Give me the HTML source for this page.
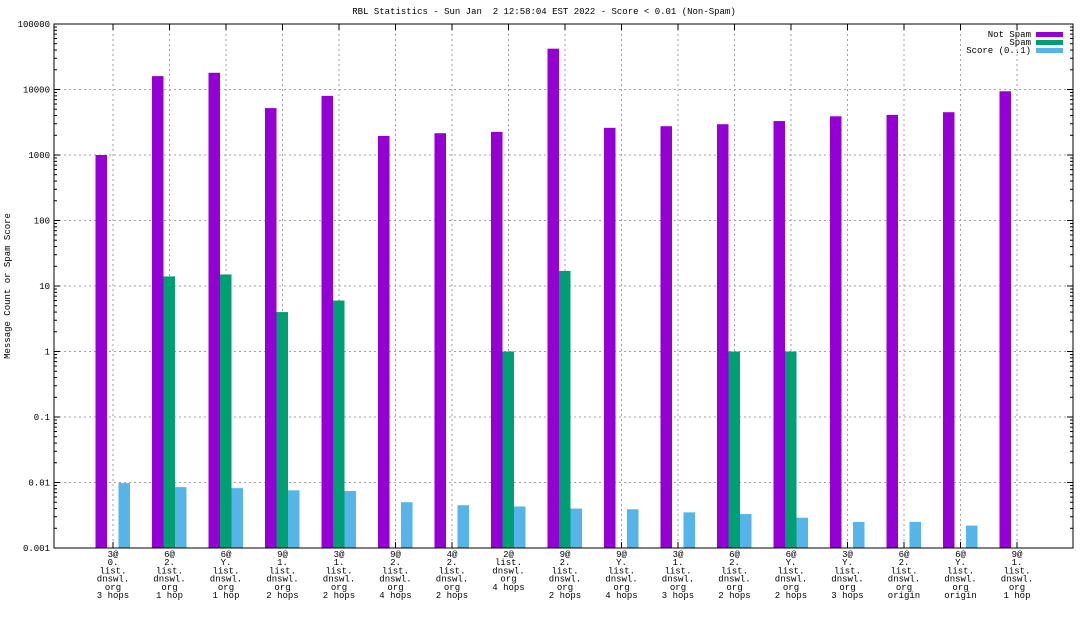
<!DOCTYPE html>
<html><head><meta charset="utf-8"><style>
body{margin:0;background:#fff;width:1088px;height:612px;overflow:hidden}
svg text{font-family:"Liberation Mono","DejaVu Sans Mono",monospace;font-size:9px;fill:#000;white-space:pre}
</style></head><body>
<svg id="c" width="1088" height="612"></svg>
<script>
const categories=[["3@","0.","list.","dnswl.","org","3 hops"],["6@","2.","list.","dnswl.","org","1 hop"],["6@","Y.","list.","dnswl.","org","1 hop"],["9@","1.","list.","dnswl.","org","2 hops"],["3@","1.","list.","dnswl.","org","2 hops"],["9@","2.","list.","dnswl.","org","4 hops"],["4@","2.","list.","dnswl.","org","2 hops"],["2@","list.","dnswl.","org","4 hops"],["9@","2.","list.","dnswl.","org","2 hops"],["9@","Y.","list.","dnswl.","org","4 hops"],["3@","1.","list.","dnswl.","org","3 hops"],["6@","2.","list.","dnswl.","org","2 hops"],["6@","Y.","list.","dnswl.","org","2 hops"],["3@","Y.","list.","dnswl.","org","3 hops"],["6@","2.","list.","dnswl.","org","origin"],["6@","Y.","list.","dnswl.","org","origin"],["9@","1.","list.","dnswl.","org","1 hop"]];
const notSpam=[1000,16000,18000,5200,8000,1950,2150,2250,42000,2600,2750,2950,3300,3900,4100,4500,9400];
const spam=[0,14,15,4,6,0,0,1,17,0,0,1,1,0,0,0,0];
const score=[0.0098,0.0085,0.0082,0.0076,0.0074,0.005,0.0045,0.0043,0.004,0.0039,0.0035,0.0033,0.0029,0.0025,0.0025,0.0022,0];
const yTicks=[0.001,0.01,0.1,1,10,100,1000,10000,100000];
const yTickLabels=["0.001","0.01","0.1","1","10","100","1000","10000","100000"];
const svg=document.getElementById('c');const NS="http://www.w3.org/2000/svg";
const L=54,R=1073,T=24,B=548;
const x=i=>113+i*56.5;
const y=v=>B-(Math.log10(v)+3)/8*(B-T);
function mk(t,a,p){const e=document.createElementNS(NS,t);for(const k in a)e.setAttribute(k,a[k]);(p||svg).appendChild(e);return e;}
let e;
e=mk('text',{x:544,y:14,'text-anchor':'middle'});e.textContent="RBL Statistics - Sun Jan  2 12:58:04 EST 2022 - Score < 0.01 (Non-Spam)";


e=mk('text',{x:10,y:286,'text-anchor':'middle',transform:'rotate(-90 10 286)'});e.textContent="Message Count or Spam Score";


yTicks.forEach((v,i)=>{const yy=y(v);
 if(i>0&&i<yTicks.length-1)mk('line',{x1:L,x2:R,y1:yy,y2:yy,stroke:'#a0a0a0','stroke-dasharray':'2,3'});
 mk('line',{x1:L,x2:L+6,y1:yy,y2:yy,stroke:'#000'});mk('line',{x1:R,x2:R-6,y1:yy,y2:yy,stroke:'#000'});
 for(let m=2;m<10&&i<yTicks.length-1;m++){const my=y(v*m);mk('line',{x1:L,x2:L+3,y1:my,y2:my,stroke:'#000'});mk('line',{x1:R,x2:R-3,y1:my,y2:my,stroke:'#000'});}
 const t=mk('text',{x:L-4,y:yy+3,'text-anchor':'end'});t.textContent=yTickLabels[i];
 
 
});
categories.forEach((c,i)=>{const cx=x(i);
 mk('line',{x1:cx,x2:cx,y1:T,y2:B,stroke:'#a0a0a0','stroke-dasharray':'2,3'});
 mk('line',{x1:cx,x2:cx,y1:B,y2:B-6,stroke:'#000'});mk('line',{x1:cx,x2:cx,y1:T,y2:T+6,stroke:'#000'});
 const t=mk('text',{'text-anchor':'middle'});
 
 
 c.forEach((s,j)=>{const ts=mk('tspan',{x:cx,y:557+j*8.2},t);ts.textContent=s;});
 const bw=11.5;
 [[notSpam,'#9400d3',-17.5,'bar-not-spam'],[spam,'#009e73',-6,'bar-spam'],[score,'#56b4e9',5.5,'bar-score']].forEach(([arr,col,off,nm])=>{
  const v=arr[i];if(!(v>0.001))return;const yy=y(v);
  const r=mk('rect',{x:cx+off,y:yy,width:bw,height:B-yy,fill:col});
  
  
 });
});
e=mk('rect',{x:L,y:T,width:R-L,height:B-T,fill:'none',stroke:'#000'});


[["Not Spam",'#9400d3'],["Spam",'#009e73'],["Score (0..1)",'#56b4e9']].forEach((l,i)=>{
 const g=mk('g',{});
 
 
 const t=mk('text',{x:1031,y:37+i*8,'text-anchor':'end'},g);t.textContent=l[0];
 mk('rect',{x:1036,y:32+i*8,width:27,height:5,fill:l[1]},g);
});
</script>
</body></html>
